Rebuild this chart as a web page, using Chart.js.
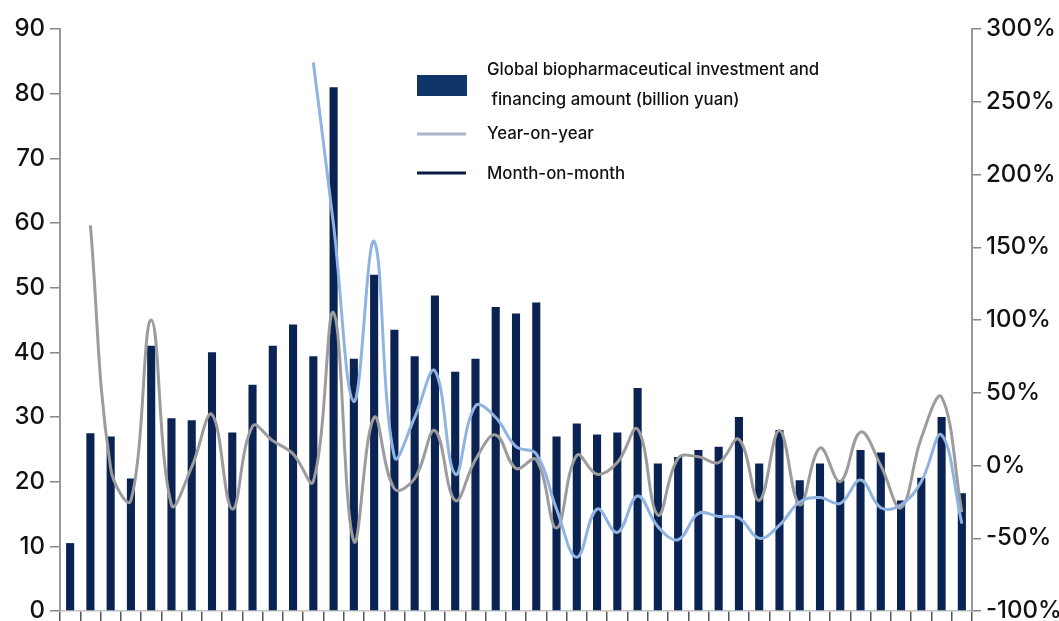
<!DOCTYPE html>
<html>
<head>
<meta charset="utf-8">
<script src="https://cdn.jsdelivr.net/npm/chart.js@4/dist/chart.umd.min.js"></script>
<style>
  html, body { margin: 0; padding: 0; background: #fff; overflow: hidden; }
  #wrap { width: 1059px; height: 621px; position: relative; }
</style>
</head>
<body>
<div id="wrap"><canvas id="myChart"></canvas></div>
<script>
// monthly periods (no labels shown on the axis)
const months = ["1","2","3","4","5","6","7","8","9","10","11","12","13","14","15",
  "16","17","18","19","20","21","22","23","24","25","26","27","28","29","30",
  "31","32","33","34","35","36","37","38","39","40","41","42","43","44","45"];

// investment and financing amount, billion yuan
const amount = [10.5, 27.5, 27, 20.5, 41, 29.8, 29.5, 40, 27.6, 35, 41, 44.3, 39.4, 81, 39,
  52, 43.5, 39.4, 48.8, 37, 39, 47, 46, 47.7, 27, 29, 27.3, 27.6, 34.5, 22.8,
  23.8, 24.9, 25.4, 30, 22.8, 28, 20.2, 22.8, 20.2, 24.9, 24.5, 17.1, 20.6, 30, 18.2];

// year-on-year, %
const yoy = [null, null, null, null, null, null, null, null, null, null, null, null, 277, 165, 44,
  154, 6, 33, 65, -6, 41, 33, 13, 8, -30, -63, -30, -46, -21, -42,
  -51, -33, -35, -36, -50, -41, -25, -22, -26, -10, -29, -27, -11, 21, -40];

// month-on-month, %
const mom = [null, 165, -2, -24, 100, -27, -1, 35, -30, 27, 17, 8, -11, 105, -52,
  33, -16, -9, 24, -24, 4, 21, -2, 4, -43, 7, -6, 2, 25, -34,
  5, 6, 2, 18, -24, 24, -27, 12, -11, 23, 0, -29, 19, 47, -32];

const leftTicks = [0, 10, 20, 30, 40, 50, 60, 70, 80, 90];
const rightTicks = [-100, -50, 0, 50, 100, 150, 200, 250, 300];

const amountLabel = ["Global biopharmaceutical investment and", " financing amount (billion yuan)"];
const yoyLabel = "Year-on-year";
const momLabel = "Month-on-month";

const axisFont = { family: "Inter, 'Open Sans', sans-serif", size: 24, weight: 500, lineHeight: 0.4 };

// legend drawn inside the plot, like the original
const legendInPlot = {
  id: "legendInPlot",
  afterDraw(chart) {
    const ctx = chart.ctx;
    ctx.save();
    ctx.fillStyle = "#103568";
    ctx.fillRect(417, 75, 50, 21);
    ctx.lineWidth = 3;
    ctx.strokeStyle = "#a8b4c8";
    ctx.beginPath(); ctx.moveTo(417, 134); ctx.lineTo(466, 134); ctx.stroke();
    ctx.strokeStyle = "#0b1a45";
    ctx.beginPath(); ctx.moveTo(417, 173); ctx.lineTo(466, 173); ctx.stroke();
    ctx.fillStyle = "#111";
    ctx.font = "500 16.8px Inter, 'Open Sans', sans-serif";
    ctx.textBaseline = "middle";
    ctx.fillText(amountLabel[0], 487, 70);
    ctx.fillText(amountLabel[1], 487, 100);
    ctx.fillText(yoyLabel, 487, 134);
    ctx.fillText(momLabel, 487, 174);
    ctx.restore();
  }
};

let ctx = document.getElementById("myChart").getContext("2d");
let myChart = new Chart(ctx, {
  data: {
    labels: months,
    datasets: [
      {
        type: "line",
        label: yoyLabel,
        data: yoy,
        yAxisID: "yRight",
        borderColor: "#8fb4e2",
        borderWidth: 3,
        pointRadius: 0,
        tension: 0.4,
        order: 1,
      },
      {
        type: "line",
        label: momLabel,
        data: mom,
        yAxisID: "yRight",
        borderColor: "#9c9c9c",
        borderWidth: 3,
        pointRadius: 0,
        tension: 0.4,
        order: 2,
      },
      {
        type: "bar",
        label: amountLabel.join(""),
        data: amount,
        yAxisID: "yLeft",
        backgroundColor: "#0a2352",
        categoryPercentage: 0.8,
        barPercentage: 0.5,
        order: 3,
      },
    ],
  },
  options: {
    responsive: true,
    maintainAspectRatio: false,
    animation: false,
    layout: { padding: { top: 29, bottom: 0, left: 0, right: 0 } },
    plugins: { legend: { display: false }, tooltip: { enabled: false } },
    scales: {
      x: {
        type: "category",
        offset: true,
        grid: { display: true, offset: true, drawOnChartArea: false, drawTicks: true, tickLength: 10, color: "#555", lineWidth: 1.5 },
        border: { display: true, color: "#c4c4c4", width: 1.5 },
        ticks: { display: false },
      },
      yLeft: {
        position: "left",
        min: 0,
        max: 90,
        afterBuildTicks: (axis) => { axis.ticks = leftTicks.map((v) => ({ value: v })); },
        afterFit: (axis) => { axis.width = 60; },
        grid: { drawOnChartArea: false, drawTicks: true, tickLength: 10, color: "#888", lineWidth: 1.5 },
        border: { display: true, color: "#999", width: 2 },
        ticks: { color: "#111", font: axisFont, padding: 5 },
      },
      yRight: {
        position: "right",
        min: -100,
        max: 300,
        afterBuildTicks: (axis) => { axis.ticks = rightTicks.map((v) => ({ value: v })); },
        afterFit: (axis) => { axis.width = 87; },
        grid: { drawOnChartArea: false, drawTicks: true, tickLength: 9, color: "#888", lineWidth: 1.5 },
        border: { display: true, color: "#999", width: 2 },
        ticks: { color: "#111", font: axisFont, padding: 5, callback: (v) => v + "%" },
      },
    },
  },
  plugins: [legendInPlot],
});
</script>
</body>
</html>
